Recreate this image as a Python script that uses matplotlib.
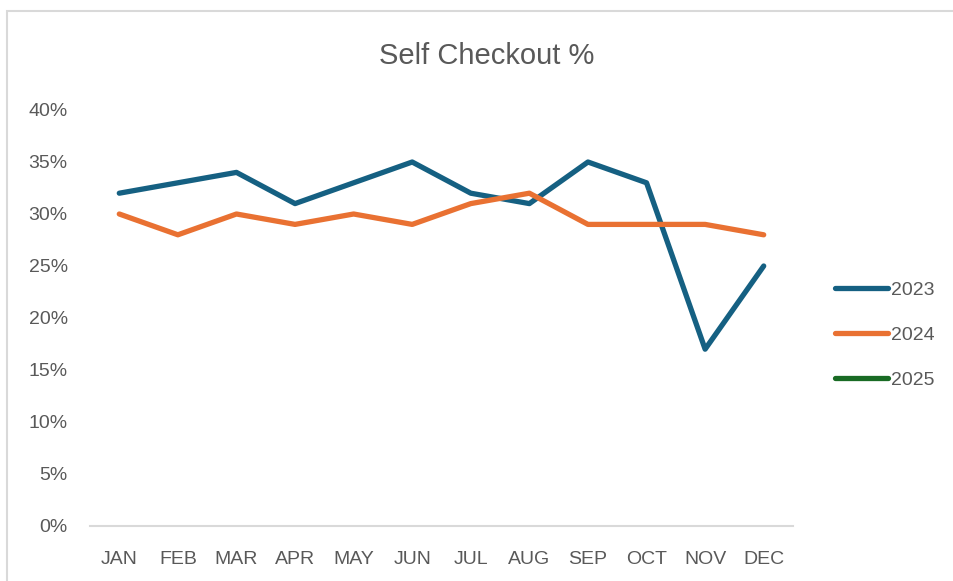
from matplotlib import pyplot as plt
from matplotlib.patches import Rectangle
from matplotlib.ticker import PercentFormatter
import numpy as np

months = ["JAN", "FEB", "MAR", "APR", "MAY", "JUN",
          "JUL", "AUG", "SEP", "OCT", "NOV", "DEC"]
sc_2023 = [32, 33, 34, 31, 33, 35, 32, 31, 35, 33, 17, 25]
sc_2024 = [30, 28, 30, 29, 30, 29, 31, 32, 29, 29, 29, 28]
sc_2025 = [np.nan] * 12

grey = "#595959"
plt.rcParams['font.family'] = ['Liberation Sans', 'DejaVu Sans']

fig = plt.figure(figsize=(9.54, 5.81), dpi=100)
ax = fig.add_axes([90 / 954, 1 - 526 / 581, (793 - 90) / 954, (526 - 110) / 581])

# chart border
fig.patches.append(Rectangle((7 / 954, -0.1), 1.1, 1 - 11 / 581 + 0.1,
                             transform=fig.transFigure, fill=False,
                             edgecolor="#D9D9D9", linewidth=1.5))

x = np.arange(len(months))
ax.plot(x, sc_2023, color="#156082", lw=3.8, solid_capstyle="round", label="2023")
ax.plot(x, sc_2024, color="#E97132", lw=3.8, solid_capstyle="round", label="2024")
ax.plot(x, sc_2025, color="#196B24", lw=3.8, solid_capstyle="round", label="2025")

ax.set_xlim(-0.5, 11.5)
ax.set_ylim(0, 40)
ax.set_yticks(range(0, 41, 5))
ax.yaxis.set_major_formatter(PercentFormatter(decimals=0))
ax.set_xticks(x)
ax.set_xticklabels(months)
ax.tick_params(length=0, labelsize=14, labelcolor=grey)
ax.tick_params(axis='y', pad=16)
ax.tick_params(axis='x', pad=18)

for side in ["top", "right", "left"]:
    ax.spines[side].set_visible(False)
ax.spines["bottom"].set_color("#D9D9D9")
ax.spines["bottom"].set_linewidth(1.5)

fig.text(487 / 954, 1 - 56 / 581, "Self Checkout %", ha="center", va="center",
         fontsize=21, color=grey)

fig.legend(loc="center left", bbox_to_anchor=(818 / 954, 1 - 335 / 581),
           frameon=False, fontsize=14, labelcolor=grey, handlelength=2.7,
           handletextpad=0.15, labelspacing=1.42)

plt.savefig("out.png", dpi=100)
